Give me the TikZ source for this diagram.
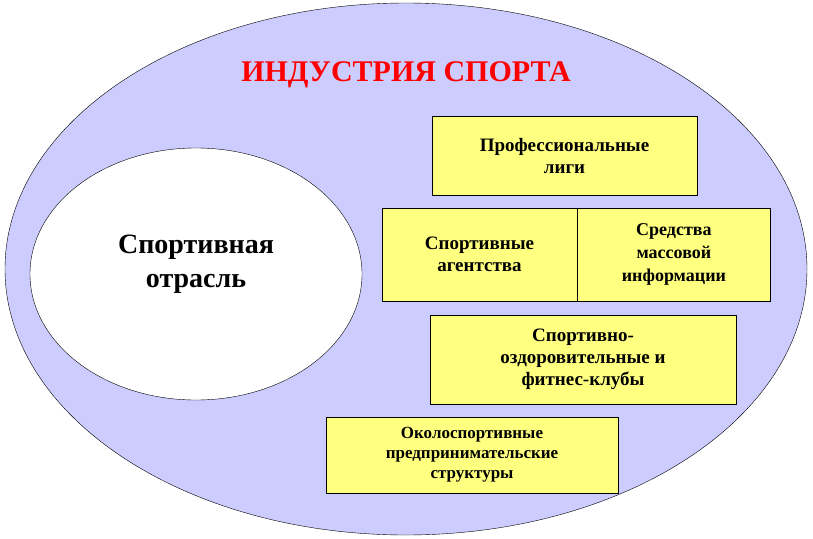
\documentclass[tikz,border=0pt]{standalone}
\usepackage{fontspec}
\setmainfont{Liberation Serif}
\usetikzlibrary{positioning}
\definecolor{lavender}{RGB}{204,204,255}
\definecolor{paleyellow}{RGB}{255,255,128}
\tikzset{
  sector/.style={draw=black, fill=paleyellow, align=center, font=\bfseries\fontsize{19}{22}\selectfont, inner sep=0pt},
}
\begin{document}
\begin{tikzpicture}[x=1pt,y=-1pt]
\useasboundingbox (0,0) rectangle (813,538);
\draw[fill=lavender] (406,269) ellipse [x radius=401, y radius=266];
\node[font=\bfseries\fontsize{30}{34}\selectfont, text=red] (title) at (406,75) {ИНДУСТРИЯ СПОРТА};
\draw[fill=white] (196,274) ellipse [x radius=166, y radius=126];
\node[align=center, font=\bfseries\fontsize{28}{34}\selectfont] (branch) at (196,264) {Спортивная\\отрасль};
\node[sector, minimum width=265, minimum height=79] (leagues) at (564.5,155.5) {Профессиональные\\лиги};
\node[sector, minimum width=195, minimum height=93] (agencies) at (479.5,254.5) {Спортивные\\агентства};
\node[sector, minimum width=193, minimum height=93, right=0pt of agencies, font=\bfseries\fontsize{18}{23}\selectfont] (media) {Средства\\массовой\\информации};
\node[sector, minimum width=306, minimum height=89] (clubs) at (583,359.5) {Спортивно-\\оздоровительные и\\фитнес-клубы};
\node[sector, minimum width=292, minimum height=76, font=\bfseries\fontsize{17}{20}\selectfont] (business) at (472,455) {Околоспортивные\\предпринимательские\\структуры};
\end{tikzpicture}
\end{document}
